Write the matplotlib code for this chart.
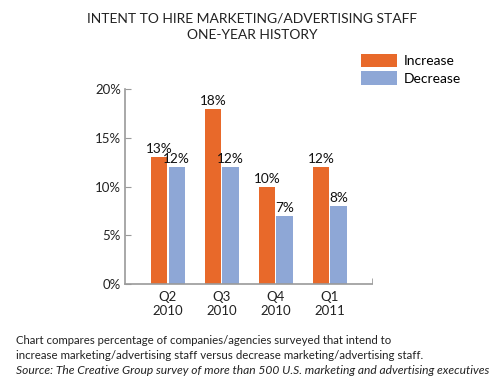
import numpy as np
import matplotlib
matplotlib.use("Agg")
import matplotlib.pyplot as plt

# data
quarters = ["Q2\n2010", "Q3\n2010", "Q4\n2010", "Q1\n2011"]
increase = [13, 18, 10, 12]
decrease = [12, 12, 7, 8]
series_names = ["Increase", "Decrease"]
yticks = [0, 5, 10, 15, 20]

ORANGE = "#E8692A"
BLUE = "#8EA7D6"
AXIS_GRAY = "#9a9a9a"
TEXT = "#222222"

plt.rcParams['font.family'] = ['Lato', 'DejaVu Sans']

fig = plt.figure(figsize=(5.04, 3.86), dpi=100)
fig.set_facecolor('white')
ax = fig.add_axes([0.248, 0.264, 0.490, 0.505])

x = np.arange(len(quarters))
w = 0.305
off = 0.163
b1 = ax.bar(x - off, increase, w, color=ORANGE, label=series_names[0])
b2 = ax.bar(x + off, decrease, w, color=BLUE, label=series_names[1])

for bars, vals in ((b1, increase), (b2, decrease)):
    for r, v in zip(bars, vals):
        ax.text(r.get_x() + r.get_width() / 2, v + 0.2, f"{v}%",
                ha='center', va='bottom', fontsize=9.8, color='#111111')

ax.set_xlim(-0.796, 3.78)
ax.set_ylim(0, 20)
ax.set_yticks(yticks)
ax.set_yticklabels([f"{t}%" for t in yticks])
ax.set_xticks(x)
ax.set_xticklabels(quarters, linespacing=1.15)
ax.set_xticks([3.78], minor=True)

for s in ('top', 'right'):
    ax.spines[s].set_visible(False)
for s in ('left', 'bottom'):
    ax.spines[s].set_color(AXIS_GRAY)
    ax.spines[s].set_linewidth(1.2)
ax.tick_params(axis='y', direction='in', length=4, color=AXIS_GRAY,
               labelsize=9.5, labelcolor=TEXT, pad=3)
ax.tick_params(axis='x', which='major', length=0, labelsize=9.5,
               labelcolor=TEXT, pad=5)
ax.tick_params(axis='x', which='minor', direction='in', length=4,
               color=AXIS_GRAY)

fig.text(0.5, 0.953, "INTENT TO HIRE MARKETING/ADVERTISING STAFF",
         ha='center', va='center', fontsize=10, color=TEXT)
fig.text(0.5, 0.910, "ONE-YEAR HISTORY",
         ha='center', va='center', fontsize=10, color=TEXT)

leg = fig.legend(handles=[b1, b2], loc='upper left',
                 bbox_to_anchor=(0.705, 0.875), frameon=False,
                 fontsize=10, handlelength=2.6, handleheight=1.1,
                 handletextpad=0.5, labelspacing=0.3, borderaxespad=0)

fig.text(0.032, 0.117,
         "Chart compares percentage of companies/agencies surveyed that intend to",
         ha='left', va='center', fontsize=8.2, color=TEXT)
fig.text(0.032, 0.079,
         "increase marketing/advertising staff versus decrease marketing/advertising staff.",
         ha='left', va='center', fontsize=8.3, color=TEXT)
fig.text(0.032, 0.041,
         "Source: The Creative Group survey of more than 500 U.S. marketing and advertising executives",
         ha='left', va='center', fontsize=8.65, color=TEXT, style='italic')

fig.savefig("out.png", dpi=100, facecolor='white')
